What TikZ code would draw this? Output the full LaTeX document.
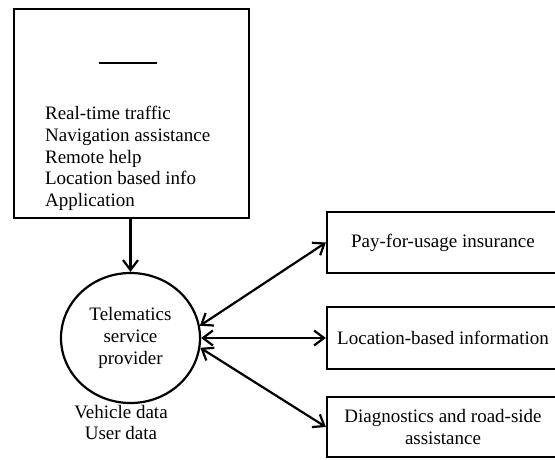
\documentclass[tikz,border=0pt]{standalone}
\usepackage{fontspec}
\setmainfont{Liberation Serif}
\usetikzlibrary{shapes.geometric,arrows.meta}

\begin{document}
\begin{tikzpicture}[x=1pt, y=-1pt, line width=2.2pt, font=\rmfamily\fontsize{19}{21.75}\selectfont]
\tikzset{boite/.style={draw, rectangle, inner sep=0pt, align=center},
  pointe/.style={-{Straight Barb[length=10pt, width=15pt]}},
  fleche/.style={{Straight Barb[length=10pt, width=15pt]}-{Straight Barb[length=10pt, width=15pt]}}}
\useasboundingbox (0,0) rectangle (555,459);
\clip (0,0) rectangle (555,459);
\node[boite, minimum width=235, minimum height=209] (App) at (131.5,113.5) {};
\draw (99,63) -- (157,63);
\node[align=left, anchor=west, inner sep=0pt] (AppTxt) at (44,158.5) {Real-time traffic\\Navigation assistance\\Remote help\\Location based info\\Application};
\node[draw, ellipse, minimum width=139, minimum height=130, align=center] (TSP) at (130.5,338) {Telematics\\service\\provider};
\node[align=center] (TSPdata) at (121,422.5) {Vehicle data\\User data};
\node[boite, minimum width=232, minimum height=61] (Ins) at (443,242.5) {Pay-for-usage insurance};
\node[boite, minimum width=232, minimum height=62] (Loc) at (443,338) {Location-based information};
\node[boite, minimum width=232, minimum height=60] (Diag) at (443,427) {Diagnostics and road-side\\assistance};
\draw[pointe] (TSP.north |- App.south) -- (TSP.north);
\draw[fleche] (TSP.10) -- (Ins.west);
\draw[fleche] (TSP.east) -- (Loc.west);
\draw[fleche] (TSP.-8) -- (Diag.west);
\end{tikzpicture}
\end{document}
